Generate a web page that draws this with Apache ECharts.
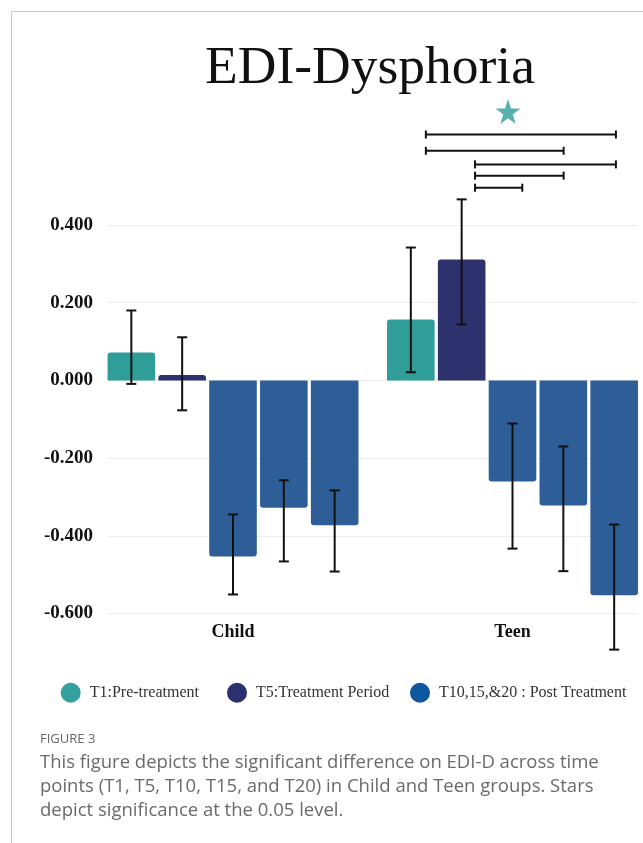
<!DOCTYPE html>
<html>
<head>
<meta charset="utf-8">
<script src="https://cdn.jsdelivr.net/npm/echarts@6/dist/echarts.min.js"></script>
<style>
  html, body { margin: 0; padding: 0; background: #fff; overflow: hidden; }
  #chart { width: 660px; height: 843px; }
</style>
</head>
<body>
<div id="chart"></div>
<script>
const groups = ["Child", "Teen"];
const timePoints = ["T1", "T5", "T10", "T15", "T20"];
const legendNames = ["T1:Pre-treatment", "T5:Treatment Period", "T10,15,&20 : Post Treatment"];
// legend entry used by each time point
const seriesLegend = [0, 1, 2, 2, 2];

// means per time point, [Child, Teen]
const meanT1 = [0.072, 0.157];
const meanT5 = [0.014, 0.311];
const meanT10 = [-0.453, -0.26];
const meanT15 = [-0.328, -0.322];
const meanT20 = [-0.373, -0.553];

// error bar ends per time point, [Child, Teen]
const lowT1 = [-0.009, 0.021];
const highT1 = [0.18, 0.342];
const lowT5 = [-0.077, 0.144];
const highT5 = [0.111, 0.466];
const lowT10 = [-0.551, -0.433];
const highT10 = [-0.345, -0.111];
const lowT15 = [-0.466, -0.491];
const highT15 = [-0.257, -0.17];
const lowT20 = [-0.492, -0.693];
const highT20 = [-0.283, -0.371];

// significance brackets: [from, to, height] (x in group units)
const brackets = [
  [1.19, 1.87, 0.633],
  [1.19, 1.683, 0.591],
  [1.366, 1.87, 0.556],
  [1.366, 1.683, 0.527],
  [1.366, 1.535, 0.496]
];
const starPoint = [[1.484, 0.692]];

const yTicks = [-0.6, 0.4, 0.2];

const means = [meanT1, meanT5, meanT10, meanT15, meanT20];
const lows = [lowT1, lowT5, lowT10, lowT15, lowT20];
const highs = [highT1, highT5, highT10, highT15, highT20];

const barColors = ["#2f9d98", "#2d316e", "#2e5e97", "#2e5e97", "#2e5e97"];
const legendColors = ["#35a09c", "#2b3070", "#0d56a0"];
const legendLeft = [55.7, 222, 405];
const BAR_W = 47.6;
const BAR_GAP = 0.068;
const CAP = 5;
const serif = "'Liberation Serif', 'Times New Roman', serif";

const chart = echarts.init(document.getElementById("chart"));

const barSeries = timePoints.map((tp, k) => ({
  name: legendNames[seriesLegend[k]],
  type: "bar",
  xAxisIndex: 1,
  yAxisIndex: 1,
  barWidth: BAR_W,
  barGap: BAR_GAP * 100 + "%",
  itemStyle: { color: barColors[k] },
  emphasis: { disabled: true },
  data: means[k].map((v) => ({
    value: v,
    itemStyle: { borderRadius: v >= 0 ? [3, 3, 0, 0] : [0, 0, 3, 3] }
  }))
}));

const errorData = [];
timePoints.forEach((tp, k) => {
  groups.forEach((g, gi) => {
    errorData.push([gi, lows[k][gi], highs[k][gi], k]);
  });
});

function renderErrorBar(params, api) {
  const gi = api.value(0);
  const k = api.value(3);
  const shift = (k - 2) * BAR_W * (1 + BAR_GAP);
  const hi = api.coord([gi, api.value(2)]);
  const lo = api.coord([gi, api.value(1)]);
  const x = hi[0] + shift;
  const style = { stroke: "#111", lineWidth: 2 };
  return {
    type: "group",
    children: [
      { type: "line", shape: { x1: x, y1: hi[1], x2: x, y2: lo[1] }, style },
      { type: "line", shape: { x1: x - CAP, y1: hi[1], x2: x + CAP, y2: hi[1] }, style },
      { type: "line", shape: { x1: x - CAP, y1: lo[1], x2: x + CAP, y2: lo[1] }, style }
    ]
  };
}

function renderBracket(params, api) {
  const a = api.coord([api.value(0), api.value(2)]);
  const b = api.coord([api.value(1), api.value(2)]);
  const style = { stroke: "#111", lineWidth: 2 };
  return {
    type: "group",
    children: [
      { type: "line", shape: { x1: a[0], y1: a[1], x2: b[0], y2: b[1] }, style },
      { type: "line", shape: { x1: a[0], y1: a[1] - 4, x2: a[0], y2: a[1] + 4 }, style },
      { type: "line", shape: { x1: b[0], y1: b[1] - 4, x2: b[0], y2: b[1] + 4 }, style }
    ]
  };
}

// one legend per entry so each can sit where it does in the figure
const legends = legendNames.map((n, i) => ({
  left: legendLeft[i],
  top: 677.7,
  icon: "circle",
  itemWidth: 20,
  itemHeight: 20,
  data: [{ name: n, itemStyle: { color: legendColors[i] } }],
  textStyle: {
    fontFamily: serif,
    fontSize: 16,
    color: "#333",
    padding: [0, 0, 0, 4]
  }
}));

const option = {
  animation: false,
  backgroundColor: "#fff",
  grid: [
    { left: 108, right: 22, top: 225, bottom: 229.5 },
    { left: 93.25, right: 7.75, top: 225, bottom: 229.5 }
  ],
  xAxis: [
    { type: "value", gridIndex: 0, show: false, min: 0, max: 1 },
    {
      type: "category",
      gridIndex: 1,
      data: groups,
      axisLine: { show: false, onZero: false },
      axisTick: { show: false },
      axisLabel: {
        margin: 10,
        fontFamily: serif,
        fontWeight: "bold",
        fontSize: 18,
        color: "#111"
      }
    },
    { type: "value", gridIndex: 1, show: false, min: 0, max: 2 }
  ],
  yAxis: [
    {
      type: "value",
      gridIndex: 0,
      min: yTicks[0],
      max: yTicks[1],
      interval: yTicks[2],
      axisLine: { show: false },
      axisTick: { show: false },
      splitLine: { lineStyle: { color: "#ececec", width: 1 } },
      axisLabel: {
        margin: 15,
        fontFamily: serif,
        fontWeight: "bold",
        fontSize: 19,
        color: "#111",
        formatter: (v) => v.toFixed(3)
      }
    },
    {
      type: "value",
      gridIndex: 1,
      min: yTicks[0],
      max: yTicks[1],
      show: false,
      splitLine: { show: false }
    }
  ],
  legend: legends,
  series: [
    ...barSeries,
    {
      type: "custom",
      xAxisIndex: 1,
      yAxisIndex: 1,
      z: 5,
      clip: false,
      renderItem: renderErrorBar,
      encode: { x: 0, y: [1, 2] },
      data: errorData
    },
    {
      type: "custom",
      xAxisIndex: 2,
      yAxisIndex: 1,
      z: 5,
      clip: false,
      renderItem: renderBracket,
      encode: { x: [0, 1], y: 2 },
      data: brackets
    },
    {
      type: "scatter",
      xAxisIndex: 2,
      yAxisIndex: 1,
      clip: false,
      symbol: "path://M50,0 L61.2,34.5 L97.6,34.5 L68.2,55.9 L79.4,90.5 L50,69.1 L20.6,90.5 L31.8,55.9 L2.4,34.5 L38.8,34.5 Z",
      symbolSize: 25,
      itemStyle: { color: "#2e9c97" },
      data: starPoint
    }
  ],
  graphic: [
    { type: "line", shape: { x1: 11.5, y1: 11, x2: 11.5, y2: 843 }, style: { stroke: "#c8c8c8", lineWidth: 1 } },
    { type: "line", shape: { x1: 11, y1: 11.5, x2: 643, y2: 11.5 }, style: { stroke: "#c8c8c8", lineWidth: 1 } },
    {
      type: "text",
      x: 370,
      y: 69,
      style: {
        text: "EDI-Dysphoria",
        fontFamily: serif,
        fontSize: 53.5,
        fill: "#111",
        textAlign: "center",
        textVerticalAlign: "middle"
      }
    },
    {
      type: "text",
      x: 40,
      y: 739,
      style: {
        text: "FIGURE 3",
        fontFamily: "'Open Sans', sans-serif",
        fontSize: 13,
        fill: "#666",
        textAlign: "left",
        textVerticalAlign: "middle"
      }
    },
    {
      type: "text",
      x: 40,
      y: 751,
      style: {
        text: "This figure depicts the significant difference on EDI-D across time\npoints (T1, T5, T10, T15, and T20) in Child and Teen groups. Stars\ndepict significance at the 0.05 level.",
        fontFamily: "'Open Sans', sans-serif",
        fontSize: 18.5,
        lineHeight: 24,
        fill: "#6a6a6a",
        textAlign: "left",
        textVerticalAlign: "top"
      }
    }
  ]
};

chart.setOption(option);
</script>
</body>
</html>
